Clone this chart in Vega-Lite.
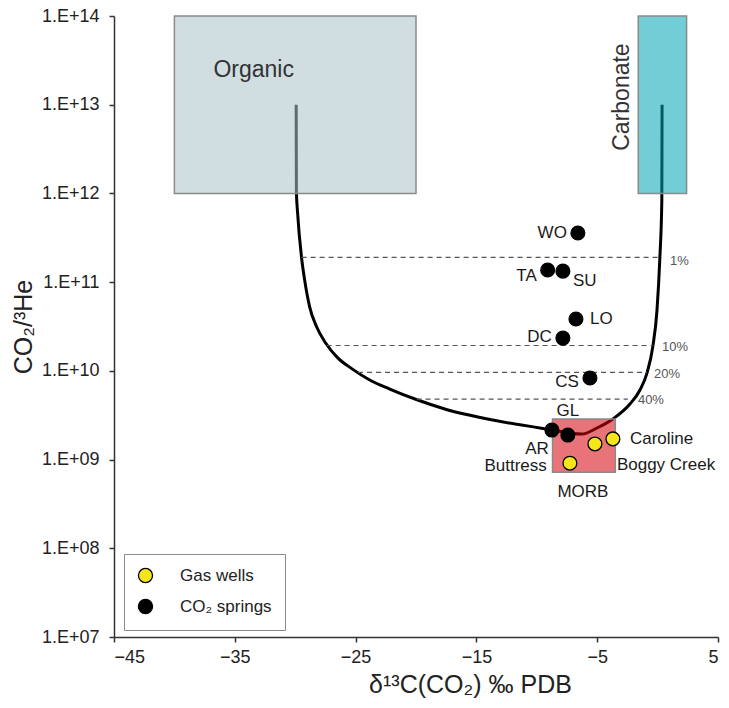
{
  "$schema": "https://vega.github.io/schema/vega-lite/v6.json",
  "width": 604,
  "height": 621,
  "autosize": {"type": "none"},
  "padding": {"left": 114, "top": 16, "right": 11, "bottom": 71},
  "background": "white",
  "config": {
    "view": {"stroke": null},
    "font": "Liberation Sans",
    "axis": {
      "grid": false,
      "domainColor": "#333333",
      "domainWidth": 1.5,
      "tickColor": "#333333",
      "tickWidth": 1.5,
      "tickSize": 5,
      "labelFont": "Liberation Sans",
      "labelFontSize": 18,
      "labelColor": "#222222",
      "titleFont": "Liberation Sans",
      "titleFontSize": 25,
      "titleFontWeight": "normal",
      "titleColor": "#222222"
    }
  },
  "datasets": {
    "boxes": [
      {"name": "Organic", "d13C": -40, "d13C_end": -20, "ratio": 1e12, "ratio_end": 1e14},
      {"name": "Carbonate", "d13C": -1.6, "d13C_end": 2.4, "ratio": 1e12, "ratio_end": 1e14},
      {"name": "MORB", "d13C": -8.7, "d13C_end": -3.5, "ratio": 7.2e8, "ratio_end": 2.86e9}
    ],
    "curve": [
      {"seq": 1, "d13C": -29.92, "ratio": 1e13},
      {"seq": 2, "d13C": -29.9, "ratio": 1.04e12},
      {"seq": 3, "d13C": -29.8, "ratio": 6.0e11},
      {"seq": 4, "d13C": -29.47, "ratio": 1.87e11},
      {"seq": 5, "d13C": -29.22, "ratio": 1.06e11},
      {"seq": 6, "d13C": -28.8, "ratio": 5.24e10},
      {"seq": 7, "d13C": -28.22, "ratio": 3.12e10},
      {"seq": 8, "d13C": -27.48, "ratio": 2.06e10},
      {"seq": 9, "d13C": -26.48, "ratio": 1.4e10},
      {"seq": 10, "d13C": -25.32, "ratio": 1.06e10},
      {"seq": 11, "d13C": -23.83, "ratio": 7.89e9},
      {"seq": 12, "d13C": -22.17, "ratio": 6.24e9},
      {"seq": 13, "d13C": -19.86, "ratio": 4.69e9},
      {"seq": 14, "d13C": -17.62, "ratio": 3.72e9},
      {"seq": 15, "d13C": -13.64, "ratio": 2.79e9},
      {"seq": 16, "d13C": -9.17, "ratio": 2.21e9},
      {"seq": 17, "d13C": -6.27, "ratio": 1.94e9},
      {"seq": 18, "d13C": -5.02, "ratio": 2.27e9},
      {"seq": 19, "d13C": -3.7, "ratio": 2.87e9},
      {"seq": 20, "d13C": -2.29, "ratio": 4.23e9},
      {"seq": 21, "d13C": -1.46, "ratio": 6.08e9},
      {"seq": 22, "d13C": -0.88, "ratio": 9.45e9},
      {"seq": 23, "d13C": -0.39, "ratio": 1.9e10},
      {"seq": 24, "d13C": -0.05, "ratio": 4.85e10},
      {"seq": 25, "d13C": 0.19, "ratio": 1.92e11},
      {"seq": 26, "d13C": 0.35, "ratio": 8.43e11},
      {"seq": 27, "d13C": 0.37, "ratio": 1e13}
    ],
    "mix": [
      {"pct": "1%", "d13C": -29.47, "d13C_end": 0.19, "ratio": 1.9e11, "lab_d13C": 1.03, "lab_ratio": 1.73e11},
      {"pct": "10%", "d13C": -27.4, "d13C_end": -0.39, "ratio": 1.93e10, "lab_d13C": 0.36, "lab_ratio": 1.86e10},
      {"pct": "20%", "d13C": -24.8, "d13C_end": -0.88, "ratio": 9.6e9, "lab_d13C": -0.3, "lab_ratio": 9.2e9},
      {"pct": "40%", "d13C": -19.95, "d13C_end": -2.46, "ratio": 4.8e9, "lab_d13C": -1.63, "lab_ratio": 4.69e9}
    ],
    "points": [
      {"site": "WO", "type": "CO₂ springs", "d13C": -6.6, "ratio": 3.58e11},
      {"site": "TA", "type": "CO₂ springs", "d13C": -9.1, "ratio": 1.37e11},
      {"site": "SU", "type": "CO₂ springs", "d13C": -7.84, "ratio": 1.33e11},
      {"site": "LO", "type": "CO₂ springs", "d13C": -6.76, "ratio": 3.84e10},
      {"site": "DC", "type": "CO₂ springs", "d13C": -7.84, "ratio": 2.34e10},
      {"site": "CS", "type": "CO₂ springs", "d13C": -5.6, "ratio": 8.3e9},
      {"site": "AR", "type": "CO₂ springs", "d13C": -8.75, "ratio": 2.15e9},
      {"site": "GL", "type": "CO₂ springs", "d13C": -7.43, "ratio": 1.89e9},
      {"site": "Buttress", "type": "Gas wells", "d13C": -7.26, "ratio": 9.1e8},
      {"site": "Boggy Creek", "type": "Gas wells", "d13C": -5.19, "ratio": 1.5e9},
      {"site": "Caroline", "type": "Gas wells", "d13C": -3.7, "ratio": 1.71e9}
    ],
    "labels": [
      {"text": "WO", "side": "right", "d13C": -7.51, "ratio": 3.58e11},
      {"text": "TA", "side": "right", "d13C": -10.0, "ratio": 1.17e11},
      {"text": "SU", "side": "left", "d13C": -7.01, "ratio": 1.03e11},
      {"text": "LO", "side": "left", "d13C": -5.6, "ratio": 3.84e10},
      {"text": "DC", "side": "right", "d13C": -8.75, "ratio": 2.4e10},
      {"text": "CS", "side": "right", "d13C": -6.52, "ratio": 7.48e9},
      {"text": "GL", "side": "center", "d13C": -7.43, "ratio": 3.53e9},
      {"text": "AR", "side": "right", "d13C": -9.0, "ratio": 1.33e9},
      {"text": "Buttress", "side": "right", "d13C": -9.17, "ratio": 8.5e8},
      {"text": "MORB", "side": "center", "d13C": -6.18, "ratio": 4.3e8},
      {"text": "Caroline", "side": "left", "d13C": -2.29, "ratio": 1.71e9},
      {"text": "Boggy Creek", "side": "left", "d13C": -3.37, "ratio": 8.7e8}
    ]
  },
  "encoding": {
    "x": {
      "field": "d13C",
      "type": "quantitative",
      "title": "δ¹³C(CO₂) ‰ PDB",
      "scale": {"domain": [-45, 5], "nice": false, "zero": false},
      "axis": {"values": [-45, -35, -25, -15, -5, 5], "labelPadding": 6, "titlePadding": 6, "titleX": 356}
    },
    "y": {
      "field": "ratio",
      "type": "quantitative",
      "title": "CO₂/³He",
      "scale": {"type": "log", "domain": [1e7, 1e14], "nice": false},
      "axis": {
        "values": [1e7, 1e8, 1e9, 1e10, 1e11, 1e12, 1e13, 1e14],
        "labelExpr": "'1.E+' + format(round(log(datum.value)/LN10), '02d')",
        "labelPadding": 10,
        "titlePadding": 5
      }
    }
  },
  "layer": [
    {
      "data": {"name": "curve"},
      "mark": {"type": "line", "color": "black", "strokeWidth": 3, "interpolate": "monotone"},
      "encoding": {"order": {"field": "seq", "type": "quantitative"}}
    },
    {
      "data": {"name": "mix"},
      "mark": {"type": "rule", "color": "#555555", "strokeWidth": 1.2, "strokeDash": [5, 4]},
      "encoding": {"x2": {"field": "d13C_end"}}
    },
    {
      "data": {"name": "mix"},
      "mark": {"type": "text", "align": "left", "baseline": "middle", "fontSize": 13, "color": "#555555"},
      "encoding": {
        "x": {"field": "lab_d13C", "type": "quantitative", "title": "δ¹³C(CO₂) ‰ PDB"},
        "y": {"field": "lab_ratio", "type": "quantitative", "title": "CO₂/³He"},
        "text": {"field": "pct"}
      }
    },
    {
      "data": {"name": "boxes"},
      "mark": {"type": "rect", "fillOpacity": 0.55, "stroke": "#8a8a8a", "strokeWidth": 1.5},
      "encoding": {
        "x2": {"field": "d13C_end"},
        "y2": {"field": "ratio_end"},
        "fill": {
          "field": "name",
          "type": "nominal",
          "scale": {"domain": ["Organic", "Carbonate", "MORB"], "range": ["#aac3cb", "#00a4b6", "#d5000a"]},
          "legend": null
        }
      }
    },
    {
      "data": {"name": "points"},
      "mark": {"type": "circle", "size": 190, "opacity": 1, "stroke": "black", "strokeWidth": 1.3},
      "encoding": {
        "color": {
          "field": "type",
          "type": "nominal",
          "scale": {"domain": ["Gas wells", "CO₂ springs"], "range": ["#f5e61a", "black"]},
          "legend": {
            "title": null,
            "orient": "none",
            "legendX": 10,
            "legendY": 538,
            "strokeColor": "#8a8a8a",
            "fillColor": "white",
            "padding": 13,
            "labelFontSize": 17,
            "labelFont": "Liberation Sans",
            "labelColor": "#222222",
            "labelOffset": 26,
            "rowPadding": 10,
            "symbolSize": 200,
            "symbolType": "circle",
            "symbolStrokeColor": "black",
            "symbolStrokeWidth": 1.3
          }
        }
      }
    },
    {
      "data": {"name": "labels"},
      "transform": [{"filter": "datum.side == 'right'"}],
      "mark": {"type": "text", "align": "right", "baseline": "middle", "fontSize": 17, "color": "#1a1a1a"},
      "encoding": {"text": {"field": "text"}}
    },
    {
      "data": {"name": "labels"},
      "transform": [{"filter": "datum.side == 'left'"}],
      "mark": {"type": "text", "align": "left", "baseline": "middle", "fontSize": 17, "color": "#1a1a1a"},
      "encoding": {"text": {"field": "text"}}
    },
    {
      "data": {"name": "labels"},
      "transform": [{"filter": "datum.side == 'center'"}],
      "mark": {"type": "text", "align": "center", "baseline": "middle", "fontSize": 17, "color": "#1a1a1a"},
      "encoding": {"text": {"field": "text"}}
    },
    {
      "data": {"values": [{"text": "Organic", "d13C": -33.44, "ratio": 2.46e13}]},
      "mark": {"type": "text", "align": "center", "baseline": "middle", "fontSize": 23, "color": "#333333"},
      "encoding": {"text": {"field": "text"}}
    },
    {
      "data": {"values": [{"text": "Carbonate", "d13C": -2.95, "ratio": 1.22e13}]},
      "mark": {"type": "text", "align": "center", "baseline": "middle", "angle": 270, "fontSize": 23, "color": "#333333"},
      "encoding": {"text": {"field": "text"}}
    }
  ]
}
